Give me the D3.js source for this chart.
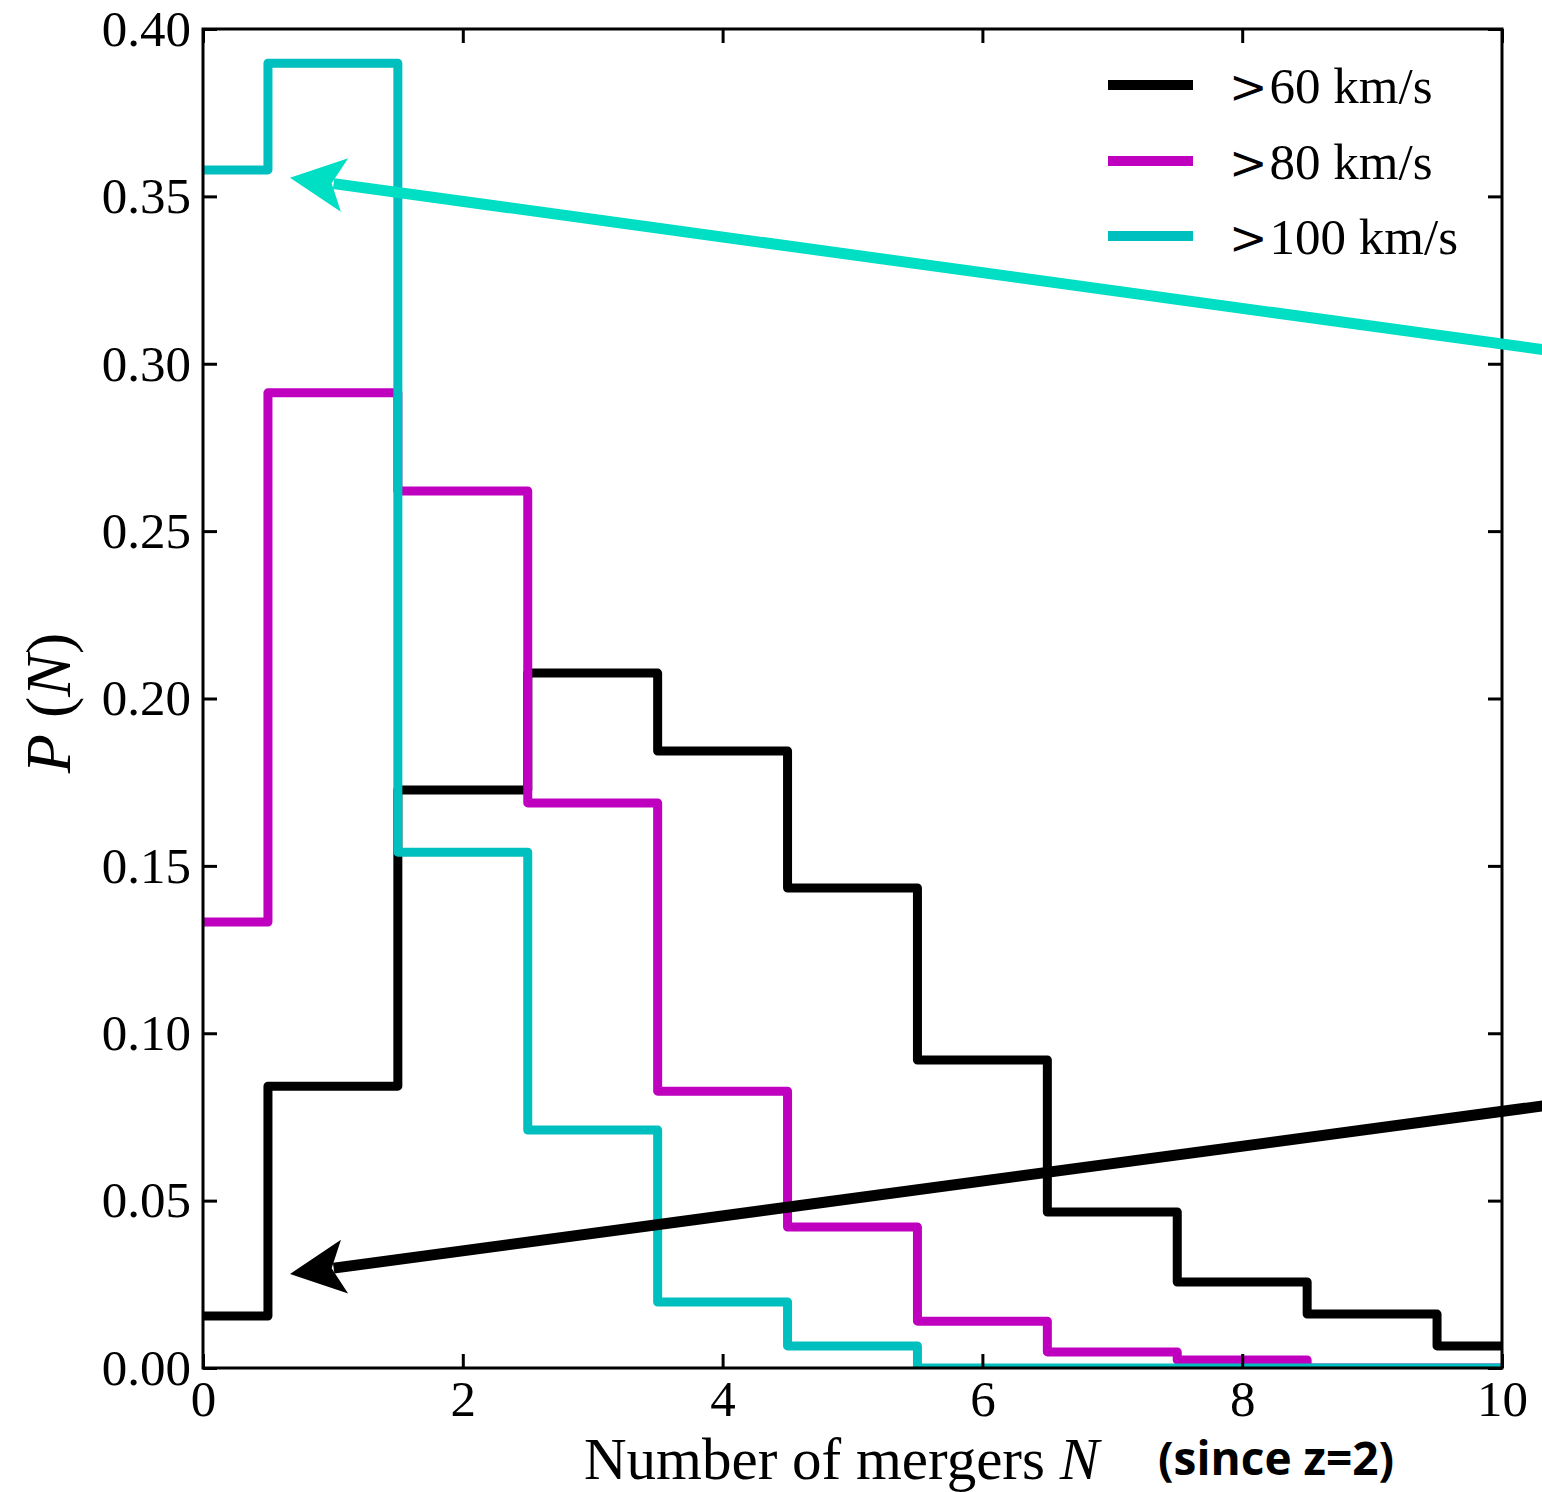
<!DOCTYPE html>
<html>
<head>
<meta charset="utf-8">
<script src="https://cdn.jsdelivr.net/npm/d3@7"></script>
<style>
  html, body { margin: 0; padding: 0; background: #fff; }
  svg { display: block; }
</style>
</head>
<body>
<div id="chart"></div>
<script>
// Merger-count probability distributions, one per velocity threshold.
const mergerCounts = [0, 1, 2, 3, 4, 5, 6, 7, 8, 9, 10];
const seriesNames = ["60 km/s", "80 km/s", "100 km/s"];
const p60  = [0.0155, 0.0842, 0.1727, 0.2076, 0.1843, 0.1434, 0.0920, 0.0466, 0.0257, 0.0161, 0.0066];
const p80  = [0.1332, 0.2913, 0.2620, 0.1688, 0.0827, 0.0421, 0.0140, 0.0048, 0.0024, 0.0, 0.0];
const p100 = [0.3579, 0.3898, 0.1541, 0.0711, 0.0197, 0.0066, 0.0, 0.0, 0.0, 0.0, 0.0];
const seriesColors = ["#000000", "#bf00bf", "#00bfbf"];

const xTicks = [0, 2, 4, 6, 8, 10];
const yTicks = [0.00, 0.05, 0.10, 0.15, 0.20, 0.25, 0.30, 0.35, 0.40];

// Annotation arrows: [tailN, tailP, tipN, tipP] in data units.
const arrowCyan  = [10.45, 0.3035, 0.67, 0.3556];
const arrowBlack = [10.45, 0.0790, 0.67, 0.0281];

const W = 1542, H = 1492;
const plot = { left: 203, top: 29, right: 1502, bottom: 1368 };

const svg = d3.select("#chart").append("svg")
  .attr("width", W).attr("height", H);

const x = d3.scaleLinear().domain([0, 10]).range([plot.left, plot.right]);
const y = d3.scaleLinear().domain([0, 0.40]).range([plot.bottom, plot.top]);

svg.append("defs").append("clipPath").attr("id", "plotClip")
  .append("rect")
  .attr("x", plot.left).attr("y", plot.top)
  .attr("width", plot.right - plot.left).attr("height", plot.bottom - plot.top);

// Step histograms (steps at half-integers, centred on each N)
const step = d3.line()
  .x(d => x(d[0]))
  .y(d => y(d[1]))
  .curve(d3.curveStep);

const series = [p60, p80, p100];
const g = svg.append("g").attr("clip-path", "url(#plotClip)");
series.forEach((vals, i) => {
  g.append("path")
    .datum(mergerCounts.map((n, k) => [n, vals[k]]))
    .attr("d", step)
    .attr("fill", "none")
    .attr("stroke", seriesColors[i])
    .attr("stroke-width", 9)
    .attr("stroke-linejoin", "round");
});

// Axes: inward ticks on all four sides
const tickLen = 14;
const fontSerif = "'Liberation Serif', 'Times New Roman', serif";

const axB = svg.append("g").attr("transform", `translate(0,${plot.bottom})`)
  .call(d3.axisBottom(x).tickValues(xTicks).tickSizeInner(-tickLen).tickSizeOuter(0)
    .tickPadding(12).tickFormat(d3.format("d")));
const axT = svg.append("g").attr("transform", `translate(0,${plot.top})`)
  .call(d3.axisTop(x).tickValues(xTicks).tickSizeInner(-tickLen).tickSizeOuter(0).tickFormat(""));
const axL = svg.append("g").attr("transform", `translate(${plot.left},0)`)
  .call(d3.axisLeft(y).tickValues(yTicks).tickSizeInner(-tickLen).tickSizeOuter(0)
    .tickPadding(12).tickFormat(d3.format(".2f")));
const axR = svg.append("g").attr("transform", `translate(${plot.right},0)`)
  .call(d3.axisRight(y).tickValues(yTicks).tickSizeInner(-tickLen).tickSizeOuter(0).tickFormat(""));

[axB, axT, axL, axR].forEach(a => {
  a.select(".domain").remove();
  a.selectAll(".tick line").attr("stroke", "#000").attr("stroke-width", 3);
  a.selectAll(".tick text")
    .attr("fill", "#000")
    .style("font-family", fontSerif)
    .style("font-size", "51px");
});

svg.append("rect")
  .attr("x", plot.left).attr("y", plot.top)
  .attr("width", plot.right - plot.left).attr("height", plot.bottom - plot.top)
  .attr("fill", "none").attr("stroke", "#000").attr("stroke-width", 3);

// Legend
const legend = svg.append("g");
const legendRows = [85, 161, 236];
seriesNames.forEach((name, i) => {
  legend.append("line")
    .attr("x1", 1108).attr("x2", 1193)
    .attr("y1", legendRows[i]).attr("y2", legendRows[i])
    .attr("stroke", seriesColors[i]).attr("stroke-width", 10);
  const t = legend.append("text")
    .attr("x", 1229).attr("y", legendRows[i] + 18)
    .style("font-family", fontSerif).style("font-size", "51px")
    .attr("fill", "#000");
  t.append("tspan")
    .style("font-family", "'DejaVu Serif', serif").style("font-size", "46px")
    .text(">");
  t.append("tspan").attr("dx", 2).text(name);
});

// Axis titles
const xl = svg.append("text")
  .attr("x", 584).attr("y", 1479)
  .style("font-family", fontSerif).style("font-size", "59px").attr("fill", "#000");
xl.append("tspan").text("Number of mergers ");
xl.append("tspan").style("font-style", "italic").text("N");

svg.append("text")
  .attr("x", 1158).attr("y", 1475)
  .style("font-family", "'Open Sans', 'Noto Sans', sans-serif")
  .style("font-size", "46px").style("font-weight", "bold")
  .attr("fill", "#000")
  .text("(since z=2)");

const yl = svg.append("text")
  .attr("transform", "translate(70,703) rotate(-90)")
  .attr("text-anchor", "middle")
  .style("font-family", fontSerif).style("font-size", "64px").attr("fill", "#000");
yl.append("tspan").style("font-style", "italic").text("P");
yl.append("tspan").text(" (");
yl.append("tspan").style("font-style", "italic").text("N");
yl.append("tspan").text(")");

// Annotation arrows with swept-back heads
function drawArrow(spec, color) {
  const tail = [x(spec[0]), y(spec[1])];
  const tip = [x(spec[2]), y(spec[3])];
  const dx = tail[0] - tip[0], dy = tail[1] - tip[1];
  const len = Math.hypot(dx, dy);
  const u = [dx / len, dy / len];
  const n = [-u[1], u[0]];
  const headLen = 55, headHalf = 27, notch = 42;
  const at = (a, p) => [tip[0] + u[0] * a + n[0] * p, tip[1] + u[1] * a + n[1] * p];
  svg.append("line")
    .attr("x1", tail[0]).attr("y1", tail[1])
    .attr("x2", at(notch + 2, 0)[0]).attr("y2", at(notch + 2, 0)[1])
    .attr("stroke", color).attr("stroke-width", 11);
  const head = [tip, at(headLen, -headHalf), at(notch, 0), at(headLen, headHalf)];
  svg.append("path")
    .attr("d", "M" + head.map(p => p.join(",")).join("L") + "Z")
    .attr("fill", color);
}
drawArrow(arrowCyan, "#00dec4");
drawArrow(arrowBlack, "#000000");
</script>
</body>
</html>
